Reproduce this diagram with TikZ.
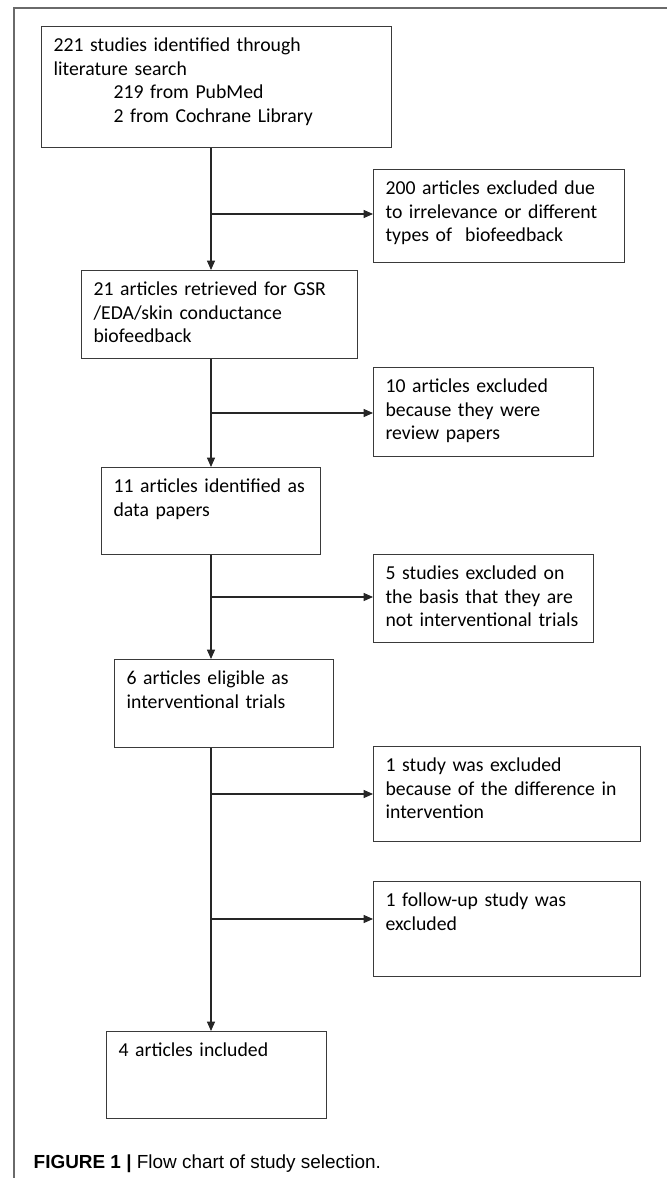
\documentclass[tikz,border=0pt]{standalone}
\usepackage{fontspec}
\setmainfont{Carlito}
\newfontfamily\capfont{Liberation Sans}
\usetikzlibrary{arrows.meta}

\definecolor{boxline}{HTML}{3A3A3A}
\definecolor{frameline}{HTML}{6A6A6A}

\tikzset{
  flowbox/.style={draw=boxline, line width=0.9pt, anchor=north west, align=left,
    inner xsep=9pt, inner ysep=0pt, text height=18.75pt,
    font=\fontsize{14.8pt}{17.6pt}\selectfont},
  arr/.style={draw=black!85, line width=0.8pt, -{Triangle[length=7pt,width=6pt]}},
}

\begin{document}
\begin{tikzpicture}[x=0.75pt, y=-0.75pt]
\useasboundingbox (0,0) rectangle (667,1178);

%% frame
\draw[frameline, line width=0.8pt] (14,1178) -- (14,8) -- (667,8);

%% boxes
\node[flowbox, text width=244.5pt, text depth=72pt] (b1) at (41,26)
  {221 studies identified through\\ literature search\\
   \hspace*{45pt}219 from PubMed\\ \hspace*{45pt}2 from Cochrane Library};   %% search
\node[flowbox, text width=170.25pt, text depth=51pt] (b2) at (373,169)
  {200 articles excluded due\\ to irrelevance or different\\ types of~ biofeedback};   %% excl 200
\node[flowbox, text width=189pt, text depth=47.25pt] (b3) at (81,270)
  {21 articles retrieved for GSR\\ /EDA/skin conductance\\ biofeedback};   %% retrieved
\node[flowbox, text width=147pt, text depth=48pt] (b4) at (373,367)
  {10 articles excluded\\ because they were\\ review papers};   %% excl 10
\node[flowbox, text width=146.25pt, text depth=46.5pt] (b5) at (101,467)
  {11 articles identified as\\ data papers};   %% data papers
\node[flowbox, text width=147pt, text depth=47.25pt] (b6) at (373,554)
  {5 studies excluded on\\ the basis that they are\\ not interventional trials};   %% excl 5
\node[flowbox, text width=146.25pt, text depth=47.25pt] (b7) at (114,659)
  {6 articles eligible as\\ interventional trials};   %% eligible
\node[flowbox, text width=182.25pt, text depth=52.5pt] (b8) at (373,746)
  {1 study was excluded\\ because of the difference in\\ intervention};   %% excl 1
\node[flowbox, text width=182.25pt, text depth=52.5pt] (b9) at (373,881)
  {1 follow-up study was\\ excluded};   %% follow-up
\node[flowbox, text width=147pt, text depth=46.5pt] (b10) at (106,1031)
  {4 articles included};   %% included

%% caption
\node[anchor=base west, font=\capfont\fontsize{14.2pt}{16pt}\selectfont] (caption) at (29,1168)
  {\textbf{FIGURE 1 |} Flow chart of study selection.};

%% branch points
\coordinate (j1) at (211,214);
\coordinate (j2) at (211,413);
\coordinate (j3) at (211,597);
\coordinate (j4) at (211,794);
\coordinate (j5) at (211,919);

%% arrows
\draw[arr] (b1.south -| j1) -- (b3.north -| j1);    %% b1 b3
\draw[arr] (b3.south -| j2) -- (b5.north -| j2);    %% b3 b5
\draw[arr] (b5.south -| j3) -- (b7.north -| j3);    %% b5 b7
\draw[arr] (b7.south -| j4) -- (b10.north -| j4);   %% b7 b10
\draw[arr] (j1) -- (j1 -| b2.west);   %% b2
\draw[arr] (j2) -- (j2 -| b4.west);   %% b4
\draw[arr] (j3) -- (j3 -| b6.west);   %% b6
\draw[arr] (j4) -- (j4 -| b8.west);   %% b8
\draw[arr] (j5) -- (j5 -| b9.west);   %% b9
\end{tikzpicture}
\end{document}
